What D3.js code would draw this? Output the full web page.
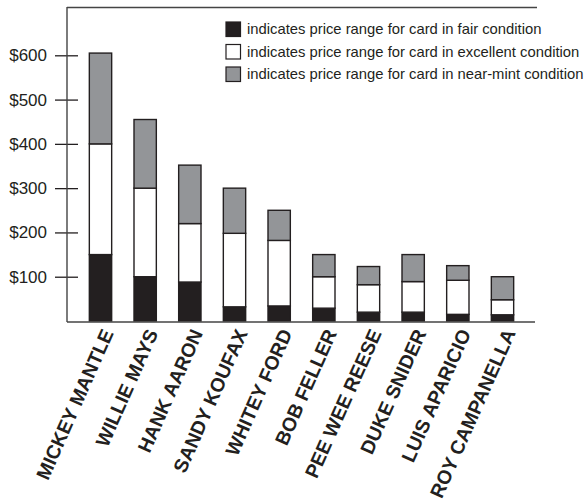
<!DOCTYPE html>
<html>
<head>
<meta charset="utf-8">
<script src="https://cdn.jsdelivr.net/npm/d3@7"></script>
<style>
  body { margin: 0; background: #fff; }
  svg { display: block; font-family: "Liberation Sans", Arial, Helvetica, sans-serif; }
</style>
</head>
<body>
<div class="canvas"></div>
<script>
// data (cumulative tops of each stacked segment)
const players = ['MICKEY MANTLE', 'WILLIE MAYS', 'HANK AARON', 'SANDY KOUFAX', 'WHITEY FORD',
                 'BOB FELLER', 'PEE WEE REESE', 'DUKE SNIDER', 'LUIS APARICIO', 'ROY CAMPANELLA'];
const fairTop      = [150, 100, 88, 32, 34, 29, 20, 20, 15, 14];
const excellentTop = [400, 300, 220, 198, 182, 100, 82, 89, 92, 48];
const nearMintTop  = [605, 455, 352, 300, 250, 150, 123, 150, 125, 100];
const yTicks = [100, 200, 300, 400, 500, 600];
const legendLabels = [
    'indicates price range for card in fair condition',
    'indicates price range for card in excellent condition',
    'indicates price range for card in near-mint condition'
];
const segColors = ['#231f20', '#ffffff', '#939598'];

//---------------------------
const width = 585, height = 499;
const axisColor = '#444';

const svg = d3.select('.canvas').append('svg')
    .attr('width', width)
    .attr('height', height);

// scales
const x = d3.scaleBand()
    .domain(players)
    .range([67, 536])
    .paddingInner(0.5)
    .paddingOuter(0.5);

const y = d3.scaleLinear()
    .domain([0, 600])
    .range([321, 55.3]);

// build stack segments from the three arrays
const segments = [];
players.forEach((p, i) => {
    const tops = [fairTop[i], excellentTop[i], nearMintTop[i]];
    let base = 0;
    tops.forEach((t, k) => {
        segments.push({ player: p, y0: base, y1: t, color: segColors[k] });
        base = t;
    });
});

svg.append('g').selectAll('rect')
    .data(segments)
    .enter().append('rect')
    .attr('x', d => x(d.player))
    .attr('y', d => y(d.y1))
    .attr('width', x.bandwidth())
    .attr('height', d => y(d.y0) - y(d.y1))
    .attr('fill', d => d.color)
    .attr('stroke', '#231f20')
    .attr('stroke-width', 1.4);

// frame: top line
svg.append('line')
    .attr('x1', 67).attr('x2', 537)
    .attr('y1', 7.5).attr('y2', 7.5)
    .attr('stroke', axisColor).attr('stroke-width', 1.4);

// y axis
const yAxis = d3.axisLeft(y)
    .tickValues(yTicks)
    .tickSize(12)
    .tickPadding(8)
    .tickFormat(d => '$' + d);

const yAxisGroup = svg.append('g')
    .attr('transform', 'translate(67,0)')
    .call(yAxis);
yAxisGroup.select('.domain').remove();
yAxisGroup.selectAll('.tick line')
    .attr('x1', 11)
    .attr('stroke', '#231f20')
    .attr('stroke-width', 1.3);
yAxisGroup.selectAll('.tick text')
    .attr('font-size', 17)
    .attr('font-family', '"Liberation Sans", Arial, sans-serif')
    .attr('fill', '#231f20');

svg.append('line')
    .attr('x1', 67).attr('x2', 67)
    .attr('y1', 7).attr('y2', 322)
    .attr('stroke', axisColor).attr('stroke-width', 1.4);

// x axis
const xAxis = d3.axisBottom(x).tickSize(0).tickPadding(0);
const xAxisGroup = svg.append('g')
    .attr('transform', 'translate(0,322)')
    .call(xAxis);
xAxisGroup.select('.domain')
    .attr('d', 'M67,0H535')
    .attr('stroke', axisColor)
    .attr('stroke-width', 1.4);
xAxisGroup.selectAll('.tick text')
    .attr('font-size', 19.5)
    .attr('font-weight', 'bold')
    .attr('font-family', '"Liberation Sans", Arial, sans-serif')
    .attr('fill', '#231f20')
    .attr('text-anchor', 'end')
    .attr('y', 0)
    .attr('dy', 0)
    .attr('transform', 'translate(13.5,11) rotate(-66)');

// legend
const legend = svg.append('g')
    .attr('transform', 'translate(226,22)');
const rows = legend.selectAll('g')
    .data(legendLabels)
    .enter().append('g')
    .attr('transform', (d, i) => `translate(0, ${i * 22.5})`);
rows.append('rect')
    .attr('width', 14.5).attr('height', 14.5)
    .attr('fill', (d, i) => segColors[i])
    .attr('stroke', '#231f20')
    .attr('stroke-width', 1.2);
rows.append('text')
    .attr('x', 21)
    .attr('y', 12.3)
    .attr('font-size', 14.8)
    .attr('fill', '#231f20')
    .text(d => d);
</script>
</body>
</html>
